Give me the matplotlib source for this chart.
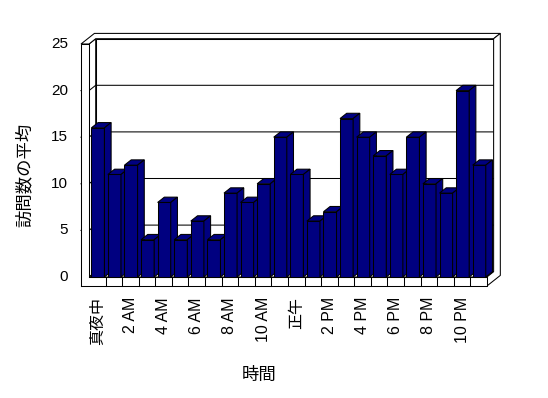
import matplotlib
matplotlib.use("Agg")
import matplotlib.pyplot as plt
from matplotlib.patches import Polygon

# average visits per hour of day
hours = list(range(24))
visits = [16, 11, 12, 4, 8, 4, 6, 4, 9, 8, 10, 15,
          11, 6, 7, 17, 15, 13, 11, 15, 10, 9, 20, 12]
tick_labels = ["真夜中", "2 AM", "4 AM", "6 AM", "8 AM", "10 AM",
               "正午", "2 PM", "4 PM", "6 PM", "8 PM", "10 PM"]
y_ticks = [0, 5, 10, 15, 20, 25]

FONT = ["Liberation Sans", "Noto Sans CJK JP", "DejaVu Sans"]
NAVY = "#000080"

# pixel scale of the plot (front plane)
PX_X = 16.58   # px per category
PX_Y = 9.32    # px per unit
X0_PX, Y0_PX = 89, 277
DX = 6.7 / PX_X        # depth offset, one step
DY = 5.3 / PX_Y
WALL = 8 / PX_X        # left wall thickness
FLOOR = 9 / PX_Y       # floor thickness
YMAX = y_ticks[-1]
N = len(hours)
BAR_W = 0.79
BAR_OFF = 0.14

fig = plt.figure(figsize=(5.48, 3.98), dpi=100)
ax = fig.add_axes([0, 0, 1, 1])
ax.set_xlim(-X0_PX / PX_X, (548 - X0_PX) / PX_X)
ax.set_ylim((Y0_PX - 398) / PX_Y, Y0_PX / PX_Y)
ax.axis("off")

LW = 0.75


def P(x, v, depth=0):
    return (x + depth * DX, v + depth * DY)


def poly(pts, fc="white", z=1):
    ax.add_patch(Polygon(pts, closed=True, facecolor=fc, edgecolor="black",
                         linewidth=LW, zorder=z))


# back wall (inner face)
poly([P(0, 0, 1), P(N, 0, 1), P(N, YMAX, 1), P(0, YMAX, 1)])
# left wall inner face
poly([P(0, 0, 0), P(0, YMAX, 0), P(0, YMAX, 1), P(0, 0, 1)])
# floor top
poly([P(0, 0, 0), P(N, 0, 0), P(N, 0, 1), P(0, 0, 1)])

# gridlines
for v in y_ticks[1:-1]:
    pts = [P(-WALL, v), P(0, v), P(0, v, 1), P(N, v, 1)]
    ax.plot([p[0] for p in pts], [p[1] for p in pts], color="black",
            linewidth=LW, zorder=2)

# top strip of walls
poly([P(-WALL, YMAX, 0), P(0, YMAX, 0), P(0, YMAX, 1), P(N, YMAX, 1),
      P(N, YMAX, 2), P(-WALL, YMAX, 2)], z=3)
# right side of floor / back wall
poly([P(N, -FLOOR, 0), P(N, 0, 0), P(N, 0, 1), P(N, YMAX, 1),
      P(N, YMAX, 2), P(N, -FLOOR, 2)], z=3)
# left wall front face
ax.add_patch(Polygon([P(-WALL, -FLOOR), P(0, -FLOOR), P(0, YMAX),
                      P(-WALL, YMAX)], closed=True, facecolor="white",
                     edgecolor="none", zorder=3))
ax.plot([-WALL, -WALL, 0, 0], [-FLOOR, YMAX, YMAX, 0], color="black",
        linewidth=LW, zorder=4)
# floor front face
ax.add_patch(Polygon([P(-WALL, -FLOOR), P(N, -FLOOR), P(N, 0), P(0, 0)],
                     closed=True, facecolor="white", edgecolor="none", zorder=3))
ax.plot([-WALL, N, N, 0], [-FLOOR, -FLOOR, 0, 0], color="black",
        linewidth=LW, zorder=4)
for i in range(1, N):
    ax.plot([i, i], [-FLOOR, 0], color="black", linewidth=LW, zorder=4)

# bars, left to right so each one hides the side of the one before
for i, v in zip(hours, visits):
    x0 = i + BAR_OFF
    x1 = x0 + BAR_W
    z = 10 + i
    poly([P(x0, 0), P(x1, 0), P(x1, v), P(x0, v)], fc=NAVY, z=z)
    poly([P(x0, v), P(x1, v), P(x1, v, 1), P(x0, v, 1)], fc=NAVY, z=z)
    poly([P(x1, 0), P(x1, 0, 1), P(x1, v, 1), P(x1, v)], fc=NAVY, z=z)

# y tick labels
for v in y_ticks:
    ax.text((68 - X0_PX) / PX_X, v, str(v), ha="right", va="center",
            fontsize=11, family=FONT)

# x tick labels, every second hour
for k, lab in enumerate(tick_labels):
    ax.text(hours[2 * k] + 0.5, (Y0_PX - 297) / PX_Y, lab, rotation=90,
            ha="center", va="top", fontsize=11.5, family=FONT)

# axis titles
ax.text((259 - X0_PX) / PX_X, (Y0_PX - 375) / PX_Y, "時間", ha="center",
        va="center", fontsize=12.5, family=FONT)
ax.text((24 - X0_PX) / PX_X, (Y0_PX - 175) / PX_Y, "訪問数の平均", rotation=90,
        ha="center", va="center", fontsize=12.5, family=FONT)

fig.savefig("out.png", dpi=100)
